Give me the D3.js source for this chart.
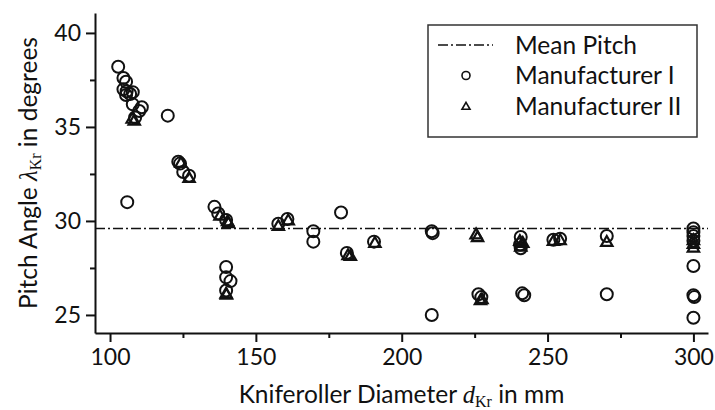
<!DOCTYPE html>
<html>
<head>
<meta charset="utf-8">
<script src="https://cdn.jsdelivr.net/npm/d3@7"></script>
<style>
  body { margin: 0; background: #fff; }
  text { font-family: Lato, "Open Sans", sans-serif; fill: #111; }
</style>
</head>
<body>
<div id="chart"></div>
<script>
// Manufacturer I (circles): [diameter mm, pitch deg]
const manufacturerI = [
  [102.8, 38.2], [104.6, 37.6], [105.5, 37.4], [104.6, 37.0], [105.7, 36.9],
  [106.9, 36.75], [107.8, 36.85], [105.5, 36.7], [107.8, 36.2], [110.9, 36.05],
  [110.0, 35.85], [108.6, 35.5], [105.9, 31.0], [119.8, 35.6],
  [123.4, 33.15], [124.0, 33.05], [125.1, 32.6], [127.1, 32.4],
  [135.8, 30.75], [137.1, 30.4], [139.8, 30.05], [139.8, 27.55], [139.8, 27.0],
  [141.3, 26.8], [139.8, 26.3],
  [157.7, 29.85], [160.8, 30.1],
  [169.7, 29.45], [169.7, 28.9],
  [179.2, 30.45], [181.2, 28.3],
  [190.5, 28.9],
  [210.3, 29.45], [210.6, 29.35], [210.3, 25.0],
  [226.3, 26.1], [227.3, 25.95],
  [240.8, 29.15], [240.6, 28.75], [240.8, 28.55], [241.3, 26.15], [242.0, 26.05],
  [252.0, 29.0], [254.3, 29.05],
  [270.3, 29.2], [270.3, 26.1],
  [300, 29.6], [300, 29.4], [300, 29.2], [300, 28.95], [300, 27.6],
  [300, 26.05], [300.3, 25.95], [300, 24.85]
];

// Manufacturer II (triangles)
const manufacturerII = [
  [107.6, 35.45], [108.3, 35.35],
  [124.3, 33.1], [127.1, 32.3],
  [137.7, 30.3], [140.6, 29.9], [140.3, 30.0], [139.8, 26.15], [139.9, 26.1],
  [157.7, 29.75], [161.1, 30.05],
  [181.6, 28.2], [182.4, 28.15],
  [190.8, 28.85],
  [225.5, 29.3], [226.0, 29.15],
  [227.0, 25.8], [227.5, 25.85],
  [240.5, 28.95], [241.5, 28.85], [240.8, 28.65],
  [252.0, 28.95], [254.3, 29.0],
  [270.3, 28.9],
  [300, 29.0], [300, 28.8], [300, 28.6]
];

const meanPitch = 29.6;

const xTicks = [100, 150, 200, 250, 300];
const xMinorTicks = [125, 175, 225, 275];
const yTicks = [25, 30, 35, 40];
const yMinorTicks = [27.5, 32.5, 37.5];

const legendItems = ["Mean Pitch", "Manufacturer I", "Manufacturer II"];

// Dimensions
const width = 715, height = 410;
const margin = { top: 13, right: 7, bottom: 77, left: 95 };

const svg = d3.select("#chart")
  .append("svg")
  .attr("width", width)
  .attr("height", height);

const x = d3.scaleLinear()
  .domain([94.85, 305])
  .range([margin.left, width - margin.right]);

const y = d3.scaleLinear()
  .domain([24.04, 41.06])
  .range([height - margin.bottom, margin.top]);

const tickFont = 23;
const labelFont = 24.5;

// Axes
svg.append("g")
  .attr("transform", `translate(0,${height - margin.bottom})`)
  .call(d3.axisBottom(x).tickValues(xTicks).tickSize(9).tickSizeOuter(0).tickPadding(7));

svg.append("g")
  .attr("transform", `translate(0,${height - margin.bottom})`)
  .call(d3.axisBottom(x).tickValues(xMinorTicks).tickSize(5).tickSizeOuter(0).tickFormat(""))
  .call(g => g.select(".domain").remove());

svg.append("g")
  .attr("transform", `translate(${margin.left},0)`)
  .call(d3.axisLeft(y).tickValues(yTicks).tickSize(9).tickSizeOuter(0).tickPadding(5));

svg.append("g")
  .attr("transform", `translate(${margin.left},0)`)
  .call(d3.axisLeft(y).tickValues(yMinorTicks).tickSize(5).tickSizeOuter(0).tickFormat(""))
  .call(g => g.select(".domain").remove());

svg.selectAll(".domain").attr("stroke", "#111").attr("stroke-width", 2);
svg.selectAll(".tick line").attr("stroke", "#111").attr("stroke-width", 2);
svg.selectAll(".tick text")
  .style("font-family", "Lato, sans-serif")
  .style("font-size", tickFont + "px")
  .attr("fill", "#111");

// Axis titles
svg.append("text")
  .attr("x", (margin.left + width - margin.right) / 2)
  .attr("y", 403)
  .attr("text-anchor", "middle")
  .style("font-size", labelFont + "px")
  .call(t => {
    t.append("tspan").text("Kniferoller Diameter ");
    t.append("tspan").text("d").style("font-family", "'Liberation Serif', serif").style("font-style", "italic");
    t.append("tspan").text("Kr").style("font-family", "'Liberation Serif', serif").style("font-size", "16px").attr("dy", 4);
    t.append("tspan").text(" in mm").attr("dy", -4);
  });

svg.append("text")
  .attr("transform", `translate(37,${(margin.top + height - margin.bottom) / 2}) rotate(-90)`)
  .attr("text-anchor", "middle")
  .style("font-size", labelFont + "px")
  .call(t => {
    t.append("tspan").text("Pitch Angle ");
    t.append("tspan").text("λ").style("font-family", "'Liberation Serif', serif").style("font-style", "italic");
    t.append("tspan").text("Kr").style("font-family", "'Liberation Serif', serif").style("font-size", "16px").attr("dy", 4);
    t.append("tspan").text(" in degrees").attr("dy", -4);
  });

// Mean pitch line
svg.append("line")
  .attr("x1", x.range()[0]).attr("x2", x.range()[1])
  .attr("y1", y(meanPitch)).attr("y2", y(meanPitch))
  .attr("stroke", "#111")
  .attr("stroke-width", 1.6)
  .attr("stroke-dasharray", "10,3,2,3");

// Markers
const tri = d3.symbol().type(d3.symbolTriangle).size(56);

svg.append("g")
  .selectAll("circle")
  .data(manufacturerI)
  .join("circle")
  .attr("cx", d => x(d[0]))
  .attr("cy", d => y(d[1]))
  .attr("r", 6)
  .attr("fill", "none")
  .attr("stroke", "#111")
  .attr("stroke-width", 2);

svg.append("g")
  .selectAll("path")
  .data(manufacturerII)
  .join("path")
  .attr("transform", d => `translate(${x(d[0])},${y(d[1]) + 1})`)
  .attr("d", tri)
  .attr("fill", "none")
  .attr("stroke", "#111")
  .attr("stroke-width", 2.2);

// Legend
const legend = svg.append("g").attr("transform", "translate(428,25)");

legend.append("rect")
  .attr("width", 269)
  .attr("height", 112)
  .attr("fill", "#fff")
  .attr("stroke", "#333")
  .attr("stroke-width", 1.5);

legendItems.forEach((label, i) => {
  const cy = 20 + i * 30.5;
  if (i === 0) {
    legend.append("line")
      .attr("x1", 10).attr("x2", 65)
      .attr("y1", cy).attr("y2", cy)
      .attr("stroke", "#111")
      .attr("stroke-width", 1.6)
      .attr("stroke-dasharray", "10,3,2,3");
  } else if (i === 1) {
    legend.append("circle")
      .attr("cx", 38).attr("cy", cy)
      .attr("r", 4)
      .attr("fill", "none")
      .attr("stroke", "#111")
      .attr("stroke-width", 1.6);
  } else {
    legend.append("path")
      .attr("transform", `translate(38,${cy + 1})`)
      .attr("d", d3.symbol().type(d3.symbolTriangle).size(28))
      .attr("fill", "none")
      .attr("stroke", "#111")
      .attr("stroke-width", 1.6);
  }
  legend.append("text")
    .attr("x", 87)
    .attr("y", cy)
    .attr("dy", "0.35em")
    .style("font-size", labelFont + "px")
    .text(label);
});
</script>
</body>
</html>
